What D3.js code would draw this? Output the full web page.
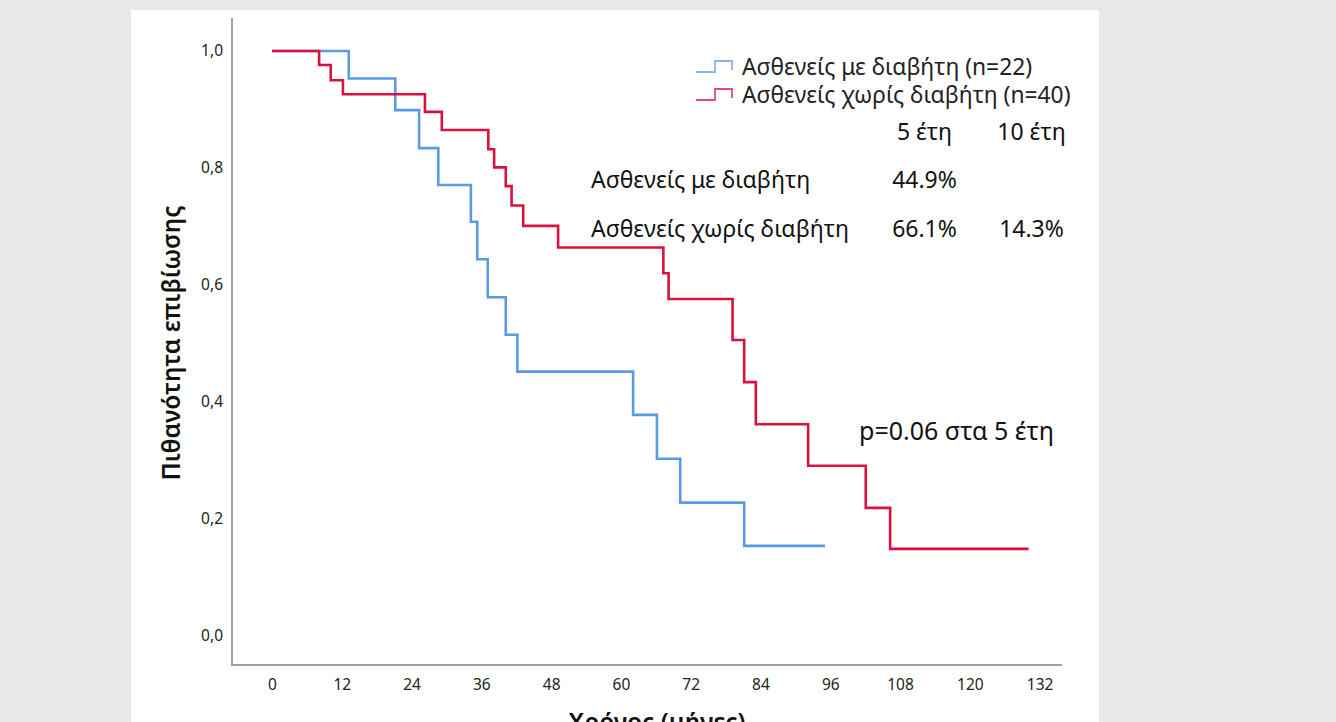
<!DOCTYPE html>
<html><head><meta charset="utf-8">
<script src="https://cdn.jsdelivr.net/npm/d3@7"></script>
<style>
html,body{margin:0;padding:0;background:#e8e8e8;}
svg{display:block;}
text{font-family:"Noto Sans","Roboto",sans-serif;}
</style></head><body>
<script>
// Data
const xTicks = [0,12,24,36,48,60,72,84,96,108,120,132];
const yTicks = [0,0.2,0.4,0.6,0.8,1.0];
const seriesNames = ["Ασθενείς με διαβήτη (n=22)","Ασθενείς χωρίς διαβήτη (n=40)"];
// step change times (months) and survival after each step
const diabTimes = [0,13.2,21.2,25.3,28.6,34.2,35.3,37.1,40.2,42.2,62.1,66.2,70.2,81.2,95.1];
const diabSurv  = [1.0,0.953,0.899,0.834,0.771,0.708,0.644,0.579,0.515,0.452,0.378,0.303,0.228,0.154,0.154];
const nodiabTimes = [0,8.1,10.1,12.2,26.3,29.2,37.2,38.2,40.2,41.2,43.2,49.2,67.3,68.2,79.2,81.2,83.2,92.2,102.1,106.3,130.1];
const nodiabSurv  = [1.0,0.976,0.950,0.926,0.896,0.865,0.832,0.801,0.769,0.736,0.701,0.664,0.620,0.576,0.506,0.434,0.362,0.291,0.219,0.149,0.149];
const tableCols = ["5 έτη","10 έτη"];
const tableRows = ["Ασθενείς με διαβήτη","Ασθενείς χωρίς διαβήτη"];
const tableVals = [["44.9%",""],["66.1%","14.3%"]];
const pText = "p=0.06 στα 5 έτη";
const colors = ["#5b9be6","#d8123e"];

const W=1336,H=722;
const svg=d3.select("body").append("svg").attr("width",W).attr("height",H);
svg.append("rect").attr("x",0).attr("y",0).attr("width",W).attr("height",H).attr("fill","#e8e8e8");
svg.append("rect").attr("x",131).attr("y",10).attr("width",968).attr("height",H-10).attr("fill","#ffffff");

const x=d3.scaleLinear().domain([0,132]).range([272,1039.6]);
const y=d3.scaleLinear().domain([0,1]).range([636,51]);

// axes lines
svg.append("line").attr("x1",232).attr("x2",232).attr("y1",18).attr("y2",666).attr("stroke","#a0a0a0").attr("stroke-width",2);
svg.append("line").attr("x1",231).attr("x2",1062).attr("y1",665).attr("y2",665).attr("stroke","#a0a0a0").attr("stroke-width",2);

const tickFont='"Liberation Sans Narrow","Roboto Condensed","Liberation Sans",sans-serif';
const xAxis=d3.axisBottom(x).tickValues(xTicks).tickSize(0).tickPadding(0).tickFormat(d=>d);
const gx=svg.append("g").attr("transform","translate(0,672)").call(xAxis);
gx.select(".domain").remove();
gx.selectAll("text").attr("font-family",tickFont).attr("font-size",15.5).attr("fill","#222").attr("y",18).attr("dy",0);

const yAxis=d3.axisLeft(y).tickValues(yTicks).tickSize(0).tickPadding(0).tickFormat(d=>d3.format(".1f")(d).replace(".",","));
const gy=svg.append("g").attr("transform","translate(223,0)").call(yAxis);
gy.select(".domain").remove();
gy.selectAll("text").attr("font-family",tickFont).attr("font-size",15.5).attr("fill","#222");

// axis titles
svg.append("text").attr("transform","translate(180,343) rotate(-90)").attr("text-anchor","middle")
  .attr("font-size",24.5).attr("font-weight",600).attr("fill","#111").text("Πιθανότητα επιβίωσης");
svg.append("text").attr("x",657).attr("y",731).attr("text-anchor","middle")
  .attr("font-size",24.5).attr("font-weight",600).attr("fill","#111").text("Χρόνος (μήνες)");

// curves
function stepData(times,surv){return times.map((t,i)=>({t:t,s:surv[i]}));}
const line=d3.line().x(d=>x(d.t)).y(d=>y(d.s)).curve(d3.curveStepAfter);
[[diabTimes,diabSurv],[nodiabTimes,nodiabSurv]].forEach((s,i)=>{
  svg.append("path").datum(stepData(s[0],s[1])).attr("d",line).attr("fill","none")
   .attr("stroke",colors[i]).attr("stroke-width",2.6).attr("stroke-linejoin","miter");
});

// legend
seriesNames.forEach((n,i)=>{
  const oy=i*28;
  svg.append("path").attr("d",`M696,${72+oy}H715V${61+oy}H732V${70+oy}`).attr("fill","none")
    .attr("stroke",colors[i]).attr("stroke-width",1.8).attr("opacity",0.75);
  svg.append("text").attr("x",742).attr("y",75+oy).attr("font-size",22.8).attr("fill","#222").text(n);
});

// table
const colX=[924.5,1031.5];
tableCols.forEach((c,j)=>svg.append("text").attr("x",colX[j]).attr("y",140).attr("text-anchor","middle").attr("font-size",23).attr("fill","#111").text(c));
tableRows.forEach((r,i)=>{
  const yy=188+i*49;
  svg.append("text").attr("x",591).attr("y",yy).attr("font-size",23).attr("fill","#111").text(r);
  tableVals[i].forEach((v,j)=>svg.append("text").attr("x",colX[j]).attr("y",yy).attr("text-anchor","middle").attr("font-size",23).attr("fill","#111").text(v));
});
svg.append("text").attr("x",859).attr("y",440).attr("font-size",25).attr("fill","#111").text(pText);
</script>
</body></html>
